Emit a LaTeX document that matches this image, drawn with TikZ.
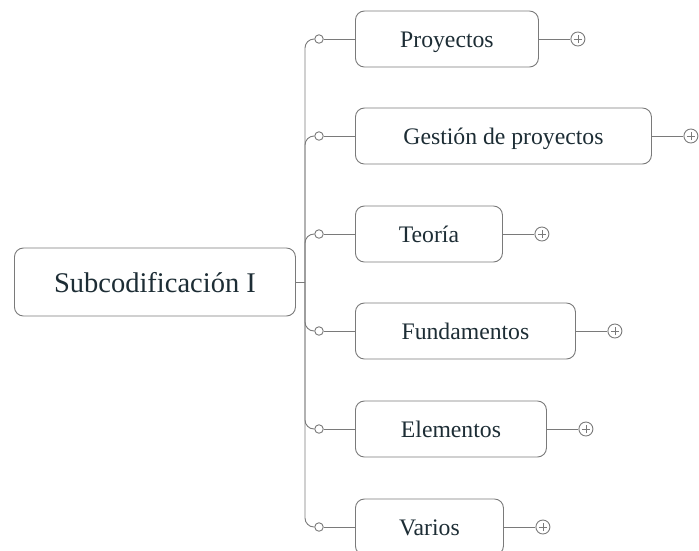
\documentclass[tikz,border=0pt]{standalone}
\usepackage{fontspec}
\setmainfont{Liberation Serif}
\definecolor{edgegray}{HTML}{7A7A7A}
\definecolor{inkdark}{HTML}{1D2D35}
\begin{document}
\begin{tikzpicture}[x=1pt,y=-1pt,
  line width=0.9pt,
  rootbox/.style={draw=edgegray, rounded corners=9pt, fill=white, text=inkdark,
    minimum height=68pt, minimum width=281pt, anchor=west, inner sep=0pt,
    text height=20pt, text depth=0pt,
    font=\fontsize{28.5}{30}\selectfont},
  topicbox/.style={draw=edgegray, rounded corners=9pt, fill=white, text=inkdark,
    minimum height=56pt, anchor=west, inner sep=0pt,
    text height=16pt, text depth=0pt,
    font=\fontsize{23.7}{26}\selectfont},
  knob/.style={circle, draw=edgegray, fill=white, minimum size=8.5pt, inner sep=0pt},
  expander/.style={circle, draw=edgegray, fill=white, minimum size=14pt, inner sep=0pt,
    path picture={
      \draw[edgegray, line width=0.8pt]
        ([xshift=-4pt]path picture bounding box.center) -- ([xshift=4pt]path picture bounding box.center)
        ([yshift=-4pt]path picture bounding box.center) -- ([yshift=4pt]path picture bounding box.center);}},
  link/.style={draw=edgegray},
  branch/.style={draw=edgegray, rounded corners=9pt},
]
\useasboundingbox (0,0) rectangle (699,550);
\clip (0,0) rectangle (699,550);

% central topic
\node[rootbox] (root) at (14,282) {Subcodificación I};
\coordinate (hub) at (305,282);
\draw[link] (root.east) -- (hub);

% subtopics: name / y / box width / text
\foreach \n/\y/\w/\t in {
    a/39/183/Proyectos,
    b/136/296/Gestión de proyectos,
    c/234/147/Teoría,
    d/331/220/Fundamentos,
    e/429/191/Elementos,
    f/527/148/Varios}{
  \node[knob] (k\n) at (319,\y) {};
  \node[topicbox, minimum width=\w pt] (t\n) at (355,\y) {\t};
  \node[expander] (p\n) at ([xshift=39pt]t\n.east) {};
  \draw[branch] (hub) |- (k\n.west);
  \draw[link] (k\n.east) -- (t\n.west);
  \draw[link] (t\n.east) -- (p\n.west);
}
\end{tikzpicture}
\end{document}
